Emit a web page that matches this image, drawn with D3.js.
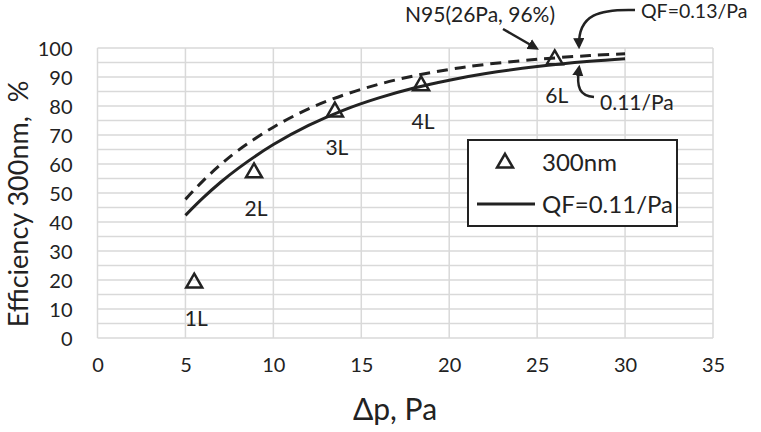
<!DOCTYPE html>
<html>
<head>
<meta charset="utf-8">
<script src="https://cdn.jsdelivr.net/npm/d3@7"></script>
<style>
  body { margin: 0; background: #fff; }
  svg text { font-family: Lato, "Noto Sans", sans-serif; fill: #222; }
</style>
</head>
<body>
<div class="container"></div>
<script>
// measured points (Δp in Pa, efficiency %)
var layers = ['1L', '2L', '3L', '4L', '6L'];
var dpMeasured = [5.5, 8.9, 13.5, 18.4, 26];
var effMeasured = [19, 57, 78, 87, 96];

// curves
var dpCurve = [5, 6, 7, 8, 10, 12, 14, 16, 18, 20, 22, 25, 28, 30];
var effQF011 = [42.3, 48.3, 53.7, 58.5, 66.7, 73.3, 78.6, 82.8, 86.2, 88.9, 91.1, 93.6, 95.4, 96.3];
var effQF013 = [47.8, 54.2, 59.8, 64.7, 72.7, 79, 83.8, 87.5, 90.4, 92.6, 94.3, 96.1, 97.4, 98];

var xTicks = [0, 5, 10, 15, 20, 25, 30, 35];
var yTicks = [0, 10, 20, 30, 40, 50, 60, 70, 80, 90, 100];
var yGrid = [0, 5, 10, 15, 20, 25, 30, 35, 40, 45, 50, 55, 60, 65, 70, 75, 80, 85, 90, 95, 100];

var W = 761, H = 432;
var svg = d3.select('.container')
    .append('svg')
    .attr('width', W)
    .attr('height', H);

var x = d3.scaleLinear().domain([0, 35]).range([97.5, 713]);
var y = d3.scaleLinear().domain([0, 100]).range([338, 48]);

// grid
svg.append('g')
    .selectAll('line')
    .data(yGrid)
    .enter()
    .append('line')
    .attr('x1', x(0)).attr('x2', x(35))
    .attr('y1', d => y(d)).attr('y2', d => y(d))
    .style('stroke', '#d9d9d9')
    .style('stroke-width', 1.5);

svg.append('g')
    .selectAll('line')
    .data(xTicks)
    .enter()
    .append('line')
    .attr('x1', d => x(d)).attr('x2', d => x(d))
    .attr('y1', y(0)).attr('y2', y(100))
    .style('stroke', '#d9d9d9')
    .style('stroke-width', 1.5);

// axes (labels only)
var xAxis = svg.append('g')
    .attr('transform', 'translate(0,' + y(0) + ')')
    .call(d3.axisBottom(x).tickValues(xTicks).tickSize(0).tickPadding(20));
var yAxis = svg.append('g')
    .attr('transform', 'translate(' + (x(0) - 13) + ',0)')
    .call(d3.axisLeft(y).tickValues(yTicks).tickSize(0).tickPadding(12));
[xAxis, yAxis].forEach(function(a) {
    a.select('.domain').remove();
    a.selectAll('text')
        .style('font-family', 'Lato, sans-serif')
        .style('font-size', '20px')
        .style('fill', '#222');
});
yAxis.selectAll('text').attr('dy', '0.35em');

// axis titles
svg.append('text')
    .attr('transform', 'translate(28,' + 204 + ') rotate(-90)')
    .attr('text-anchor', 'middle')
    .style('font-size', '27px')
    .style('white-space', 'pre')
    .text('Efficiency 300nm,  %');

svg.append('text')
    .attr('x', 395)
    .attr('y', 420)
    .attr('text-anchor', 'middle')
    .style('font-size', '30px')
    .text('Δp, Pa');

// curves
var curveLine = d3.line()
    .x((d, i) => x(dpCurve[i]))
    .y(d => y(d))
    .curve(d3.curveCatmullRom);

svg.append('path')
    .attr('d', curveLine(effQF013))
    .style('fill', 'none')
    .style('stroke', '#222')
    .style('stroke-width', 3)
    .style('stroke-dasharray', '11,7');

svg.append('path')
    .attr('d', curveLine(effQF011))
    .style('fill', 'none')
    .style('stroke', '#222')
    .style('stroke-width', 3);

// triangles
var tri = d3.symbol().type(d3.symbolTriangle).size(110);
svg.selectAll('.pt')
    .data(effMeasured)
    .enter()
    .append('path')
    .attr('class', 'pt')
    .attr('d', tri)
    .attr('transform', (d, i) => 'translate(' + x(dpMeasured[i]) + ',' + y(d) + ')')
    .style('fill', 'none')
    .style('stroke', '#222')
    .style('stroke-width', 2.5);

svg.selectAll('.lbl')
    .data(layers)
    .enter()
    .append('text')
    .attr('class', 'lbl')
    .attr('x', (d, i) => x(dpMeasured[i]) + 2)
    .attr('y', (d, i) => y(effMeasured[i]) + 43)
    .attr('text-anchor', 'middle')
    .style('font-size', '21px')
    .text(d => d);

// legend
var lg = svg.append('g');
lg.append('rect')
    .attr('x', 468).attr('y', 140)
    .attr('width', 209).attr('height', 86)
    .style('fill', '#fff')
    .style('stroke', '#222')
    .style('stroke-width', 2);
lg.append('path')
    .attr('d', tri)
    .attr('transform', 'translate(505,163)')
    .style('fill', 'none')
    .style('stroke', '#222')
    .style('stroke-width', 2.5);
lg.append('text')
    .attr('x', 542).attr('y', 171)
    .style('font-size', '24px')
    .text('300nm');
lg.append('line')
    .attr('x1', 477).attr('x2', 535)
    .attr('y1', 204).attr('y2', 204)
    .style('stroke', '#222')
    .style('stroke-width', 3);
lg.append('text')
    .attr('x', 542).attr('y', 213)
    .style('font-size', '24px')
    .text('QF=0.11/Pa');

// annotations
var defs = svg.append('defs');
defs.append('marker')
    .attr('id', 'arr')
    .attr('viewBox', '0 0 10 10')
    .attr('refX', 7).attr('refY', 5)
    .attr('markerWidth', 4.5).attr('markerHeight', 4.5)
    .attr('orient', 'auto')
    .append('path')
    .attr('d', 'M0,0 L10,5 L0,10 Z')
    .style('fill', '#222');

svg.append('text')
    .attr('x', 405).attr('y', 22)
    .style('font-size', '21px')
    .text('N95(26Pa, 96%)');
svg.append('path')
    .attr('d', 'M503,29 L536,48')
    .style('stroke', '#222').style('stroke-width', 2.5).style('fill', 'none')
    .attr('marker-end', 'url(#arr)');

svg.append('text')
    .attr('x', 641).attr('y', 18)
    .style('font-size', '19.5px')
    .text('QF=0.13/Pa');
svg.append('path')
    .attr('d', 'M635,10 C600,9 578,14 579,46')
    .style('stroke', '#222').style('stroke-width', 2.5).style('fill', 'none')
    .attr('marker-end', 'url(#arr)');

svg.append('text')
    .attr('x', 600).attr('y', 110)
    .style('font-size', '21px')
    .text('0.11/Pa');
svg.append('path')
    .attr('d', 'M594,97 C580,96 576,88 579,68')
    .style('stroke', '#222').style('stroke-width', 2.5).style('fill', 'none')
    .attr('marker-end', 'url(#arr)');
</script>
</body>
</html>
